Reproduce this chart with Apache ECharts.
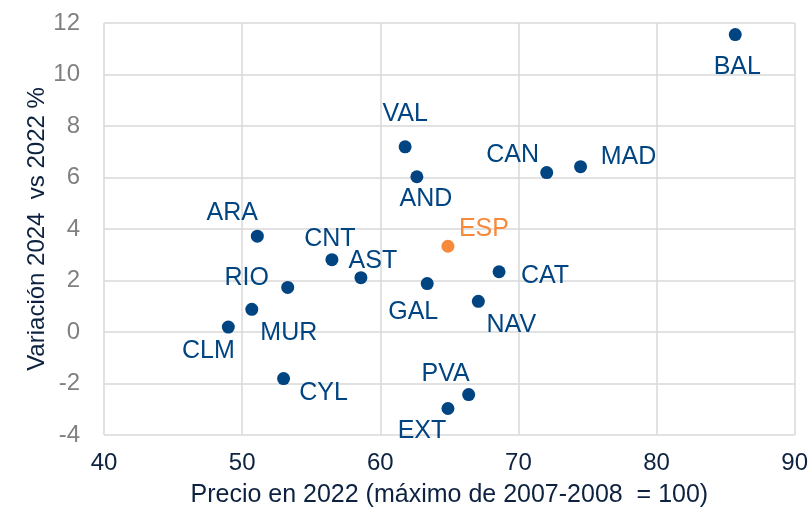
<!DOCTYPE html>
<html lang="es">
<head>
<meta charset="UTF-8">
<title>Precio vs variación</title>
<script src="https://cdn.jsdelivr.net/npm/echarts@6/dist/echarts.min.js"></script>
<style>
  html, body { margin: 0; padding: 0; background: #fff; }
  #main { width: 811px; height: 513px; }
</style>
</head>
<body>
<div id="main"></div>
<script>
// regiones (CCAA)
var regions = ['BAL', 'VAL', 'AND', 'CAN', 'MAD', 'ARA', 'ESP', 'CNT', 'AST', 'CAT',
               'RIO', 'GAL', 'NAV', 'MUR', 'CLM', 'CYL', 'PVA', 'EXT'];
// precio 2022 (max 2007-2008 = 100)
var precio2022 = [85.7, 61.8, 62.65, 72.05, 74.5, 51.1, 64.9, 56.5, 58.6, 68.6,
                  53.3, 63.4, 67.1, 50.7, 49.0, 53.0, 66.4, 64.9];
// variacion 2024 vs 2022 %
var variacion = [11.55, 7.19, 6.03, 6.19, 6.42, 3.72, 3.33, 2.81, 2.11, 2.34,
                 1.73, 1.88, 1.19, 0.88, 0.19, -1.81, -2.43, -2.97];

// where each label sits relative to its dot [dx, dy]
var labelOffsets = {
  BAL: [2, 33], VAL: [0, -33], AND: [9, 22], CAN: [-34, -17], MAD: [48, -10],
  ARA: [-25, -23], ESP: [36, -17], CNT: [-2, -21], AST: [12, -17], CAT: [46, 4],
  RIO: [-41, -9], GAL: [-14, 29], NAV: [33, 24], MUR: [37, 24], CLM: [-20, 24],
  CYL: [40, 15], PVA: [-23, -20], EXT: [-26, 23]
};

var blue = '#004481';
var orange = '#F7893B';
var font = 'Liberation Sans, Arial, sans-serif';

var points = regions.map(function (r, i) {
  var isEsp = r === 'ESP';
  return {
    name: r,
    value: [precio2022[i], variacion[i]],
    itemStyle: { color: isEsp ? orange : blue, opacity: 1 },
    label: {
      show: true,
      formatter: r,
      position: 'inside',
      offset: labelOffsets[r],
      color: isEsp ? orange : blue,
      fontSize: 25,
      fontFamily: font
    }
  };
});

var chart = echarts.init(document.getElementById('main'));

var option = {
  backgroundColor: '#ffffff',
  animation: false,
  grid: { left: 104, right: 16, top: 23, bottom: 76 },
  xAxis: {
    type: 'value',
    min: 40, max: 90, interval: 10,
    name: 'Precio en 2022 (máximo de 2007-2008  = 100)',
    nameLocation: 'middle',
    nameGap: 48,
    nameMoveOverlap: false,
    nameTextStyle: { color: '#0d2240', fontSize: 25, fontFamily: font },
    axisLine: { show: false },
    axisTick: { show: false },
    axisLabel: { color: '#0d2240', fontSize: 24, margin: 16, fontFamily: font },
    splitLine: { show: true, lineStyle: { color: '#d9d9d9', width: 1.5 } }
  },
  yAxis: {
    type: 'value',
    min: -4, max: 12, interval: 2,
    name: 'Variación 2024  vs 2022 %',
    nameLocation: 'middle',
    nameGap: 55,
    nameMoveOverlap: false,
    nameTextStyle: { color: '#0d2240', fontSize: 24, fontFamily: font },
    axisLine: { show: false },
    axisTick: { show: false },
    axisLabel: { color: '#808080', fontSize: 24, margin: 24, fontFamily: font },
    splitLine: { show: true, lineStyle: { color: '#d9d9d9', width: 1.5 } }
  },
  series: [{
    type: 'scatter',
    symbol: 'circle',
    symbolSize: 13,
    data: points
  }]
};

chart.setOption(option);
</script>
</body>
</html>
